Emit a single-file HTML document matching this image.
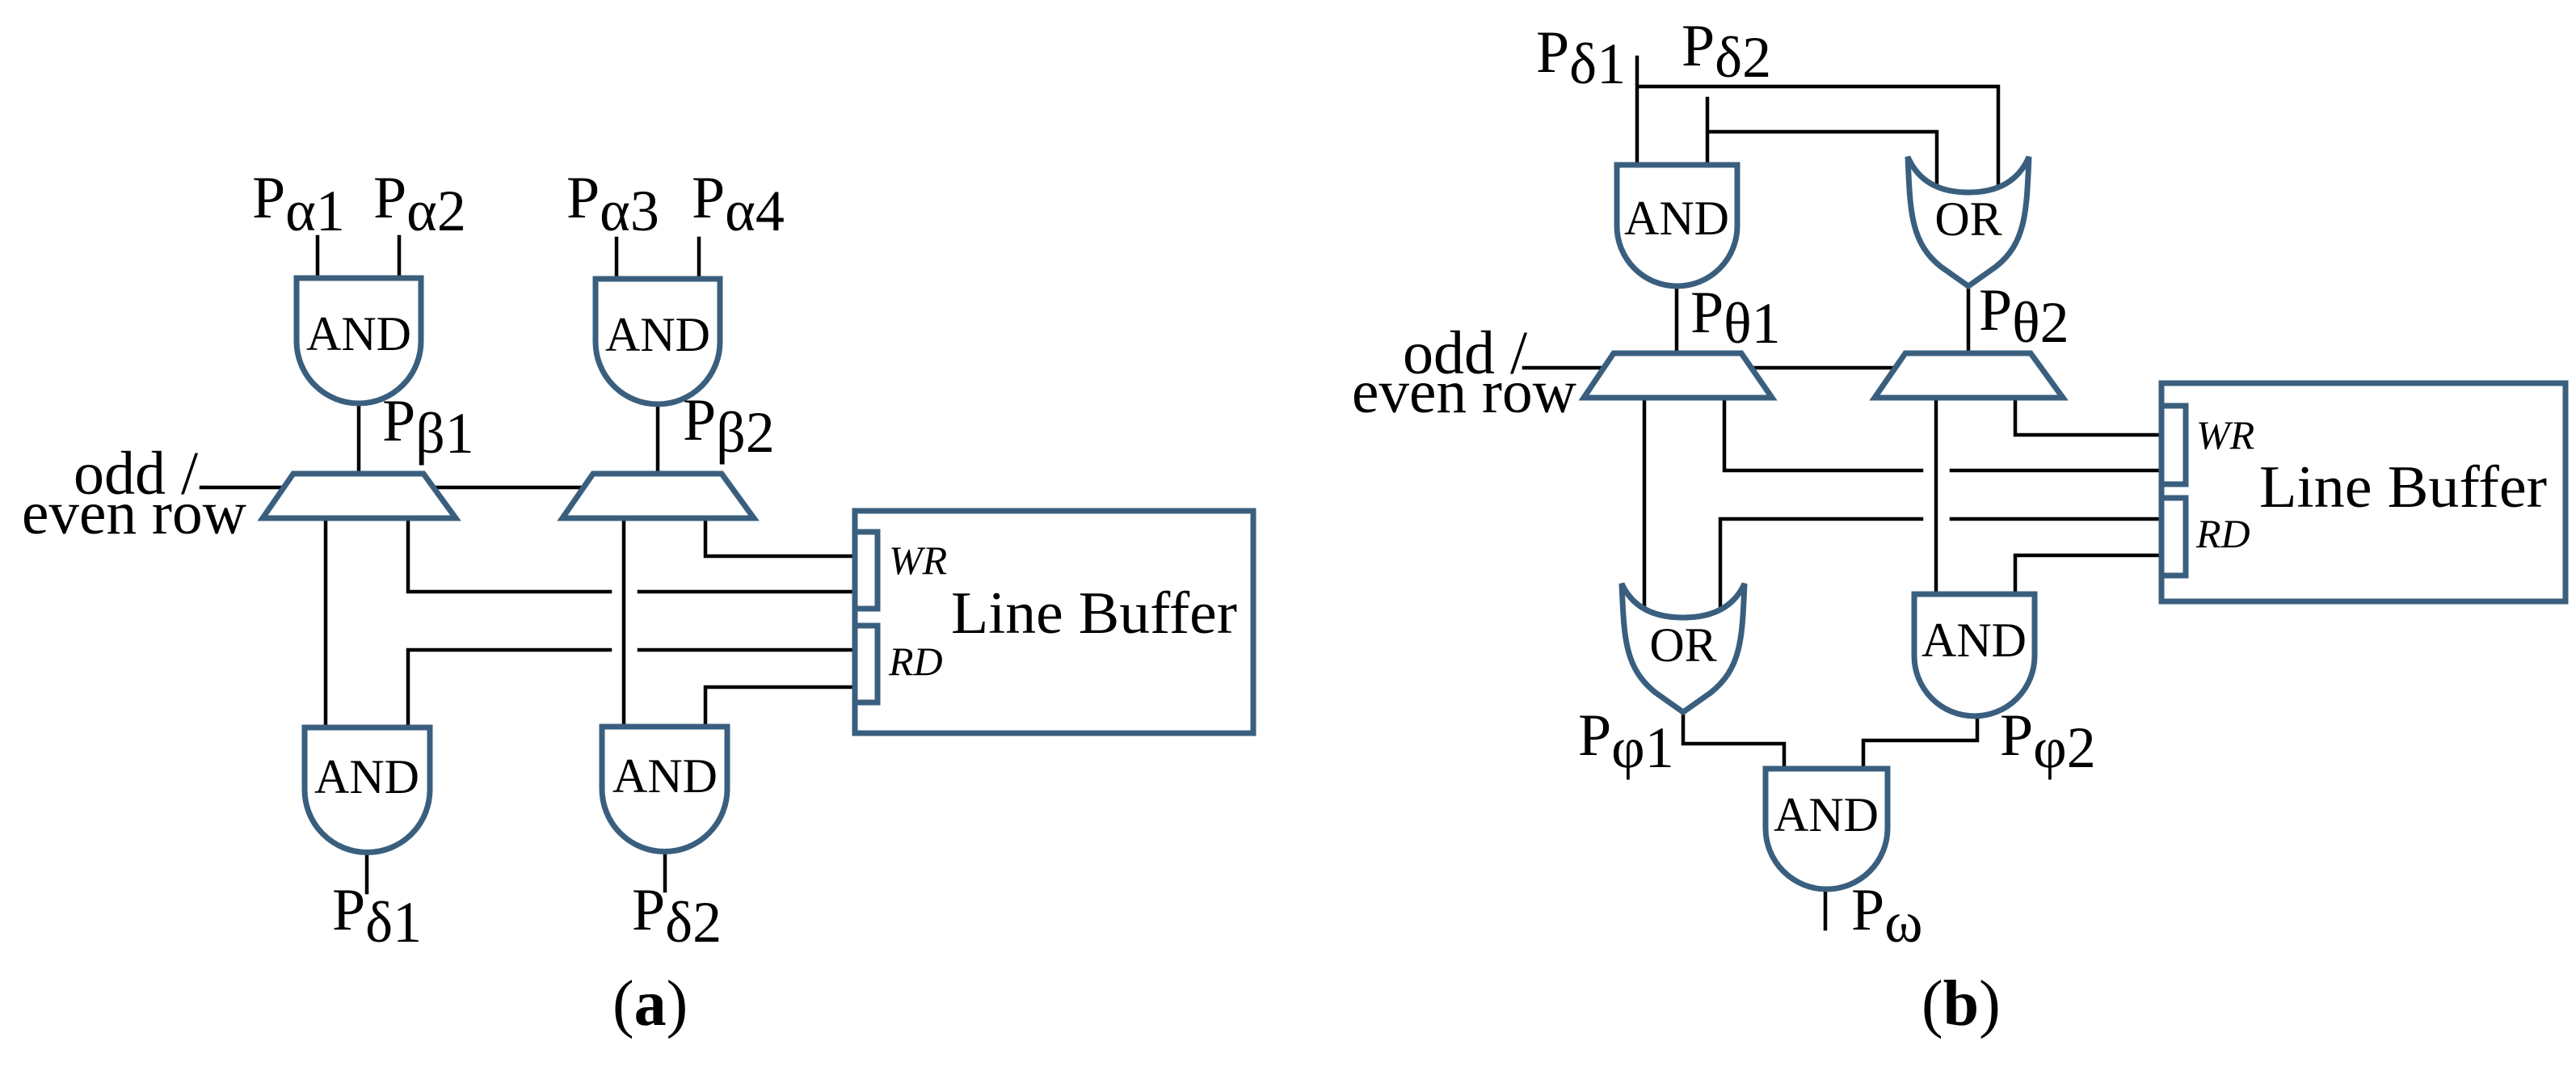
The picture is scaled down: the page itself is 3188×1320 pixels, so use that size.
<!DOCTYPE html>
<html><head><meta charset="utf-8"><style>
html,body{margin:0;padding:0;background:#fff;}
svg{display:block;}
text{font-family:"Liberation Serif",serif;fill:#000;}
</style></head><body>
<svg width="3188" height="1320" viewBox="0 0 3188 1320" xmlns="http://www.w3.org/2000/svg">
<g fill="none" stroke="#000" stroke-width="4.5" stroke-linecap="square">
<path d="M393 293V344M494 293V344M763 295V345M865 295V345"/>
<path d="M444 499V586M814 499V586"/>
<path d="M249 603H351M540 603H722"/>
<path d="M403 641V900M505 641V732H755M505 900V804H755M772 641V899"/>
<path d="M873 641V688H1058M791 732H1058M791 804H1058M873 899V850H1058"/>
<path d="M454 1054V1104M823 1054V1102"/>
<path d="M2026 71V204M2026 107H2473V227M2113 122V204M2113 163H2397V230"/>
<path d="M2075 354V437M2436 354V437"/>
<path d="M1886 455H1984M2168 455H2347"/>
<path d="M2035 492V752M2134 492V582H2378M2415 582H2675M2129 752V642H2378M2415 642H2675"/>
<path d="M2396 492V735M2494 492V538H2675M2494 735V687H2675"/>
<path d="M2083 881V920H2208V951M2447 886V916H2306V951M2259 1100V1149"/>
</g>
<g fill="#fff" stroke="#3a5f7e" stroke-width="7" stroke-linejoin="miter">
<path d="M367 344H521V422A77 77 0 0 1 367 422Z"/>
<path d="M737 345H891V423A77 77 0 0 1 737 423Z"/>
<path d="M377 900H532V977A77.5 77.5 0 0 1 377 977Z"/>
<path d="M745 899H900V976A77.5 77.5 0 0 1 745 976Z"/>
<polygon points="363,586 524,586 564,641 325,641"/>
<polygon points="734,586 893,586 933,641 696,641"/>
<rect x="1058" y="632" width="493" height="275"/>
<rect x="1058" y="658" width="28" height="95"/>
<rect x="1058" y="774" width="28" height="95"/>
<path d="M2001 204H2150V279.5A74.5 74.5 0 0 1 2001 279.5Z"/>
<path d="M2361 194Q2380 238 2436 238Q2492 238 2511 194C2508 260 2508 300 2470 330L2436 354L2402 330C2364 300 2364 260 2361 194Z"/>
<polygon points="1997,437 2155,437 2193,492 1960,492"/>
<polygon points="2358,437 2513,437 2553,492 2320,492"/>
<rect x="2675" y="474" width="500" height="270"/>
<rect x="2675" y="502" width="30" height="97"/>
<rect x="2675" y="616" width="30" height="96"/>
<path d="M2007 722Q2026 764 2083 764Q2140 764 2159 722C2156 788 2156 826 2117 857L2083 881L2049 857C2010 826 2010 788 2007 722Z"/>
<path d="M2369 735H2518V811.5A74.5 74.5 0 0 1 2369 811.5Z"/>
<path d="M2185 951H2336V1024.5A75.5 75.5 0 0 1 2185 1024.5Z"/>
</g>
<g font-size="60" text-anchor="middle">
<text x="444" y="433">AND</text>
<text x="814" y="434">AND</text>
<text x="454" y="981">AND</text>
<text x="823" y="980">AND</text>
<text x="2075" y="290">AND</text>
<text x="2436" y="291">OR</text>
<text x="2083" y="818">OR</text>
<text x="2443" y="812">AND</text>
<text x="2260" y="1028">AND</text>
</g>
<g font-size="74">
<text x="312" y="269">P<tspan font-size="72" dy="16">α1</tspan></text>
<text x="462" y="269">P<tspan font-size="72" dy="16">α2</tspan></text>
<text x="701" y="269">P<tspan font-size="72" dy="16">α3</tspan></text>
<text x="856" y="269">P<tspan font-size="72" dy="16">α4</tspan></text>
<text x="473" y="545">P<tspan font-size="72" dy="15">β1</tspan></text>
<text x="845" y="544">P<tspan font-size="72" dy="15">β2</tspan></text>
<text x="411" y="1150">P<tspan font-size="72" dy="15">δ1</tspan></text>
<text x="782" y="1150">P<tspan font-size="72" dy="15">δ2</tspan></text>
<text x="1901" y="89">P<tspan font-size="72" dy="14">δ1</tspan></text>
<text x="2081" y="81">P<tspan font-size="72" dy="14">δ2</tspan></text>
<text x="2092" y="411">P<tspan font-size="72" dy="13">θ1</tspan></text>
<text x="2449" y="408">P<tspan font-size="72" dy="15">θ2</tspan></text>
<text x="1953" y="934">P<tspan font-size="72" dy="15">φ1</tspan></text>
<text x="2475" y="934">P<tspan font-size="72" dy="15">φ2</tspan></text>
<text x="2291" y="1150">P<tspan font-size="72" dy="15">ω</tspan></text>
</g>
<g font-size="76">
<text x="91" y="611">odd /</text>
<text x="27" y="660" textLength="278" lengthAdjust="spacingAndGlyphs">even row</text>
<text x="1736" y="462">odd /</text>
<text x="1673" y="510" textLength="278" lengthAdjust="spacingAndGlyphs">even row</text>
</g>
<g font-size="50" font-style="italic">
<text x="1100" y="710">WR</text>
<text x="1100" y="835">RD</text>
<text x="2718" y="555">WR</text>
<text x="2718" y="677">RD</text>
</g>
<g font-size="74">
<text x="1177" y="783" textLength="354" lengthAdjust="spacingAndGlyphs">Line Buffer</text>
<text x="2796" y="627" textLength="356" lengthAdjust="spacingAndGlyphs">Line Buffer</text>
</g>
<g font-size="80">
<text x="758" y="1268">(<tspan font-weight="bold">a</tspan>)</text>
<text x="2378" y="1268">(<tspan font-weight="bold">b</tspan>)</text>
</g>
</svg>
</body></html>
